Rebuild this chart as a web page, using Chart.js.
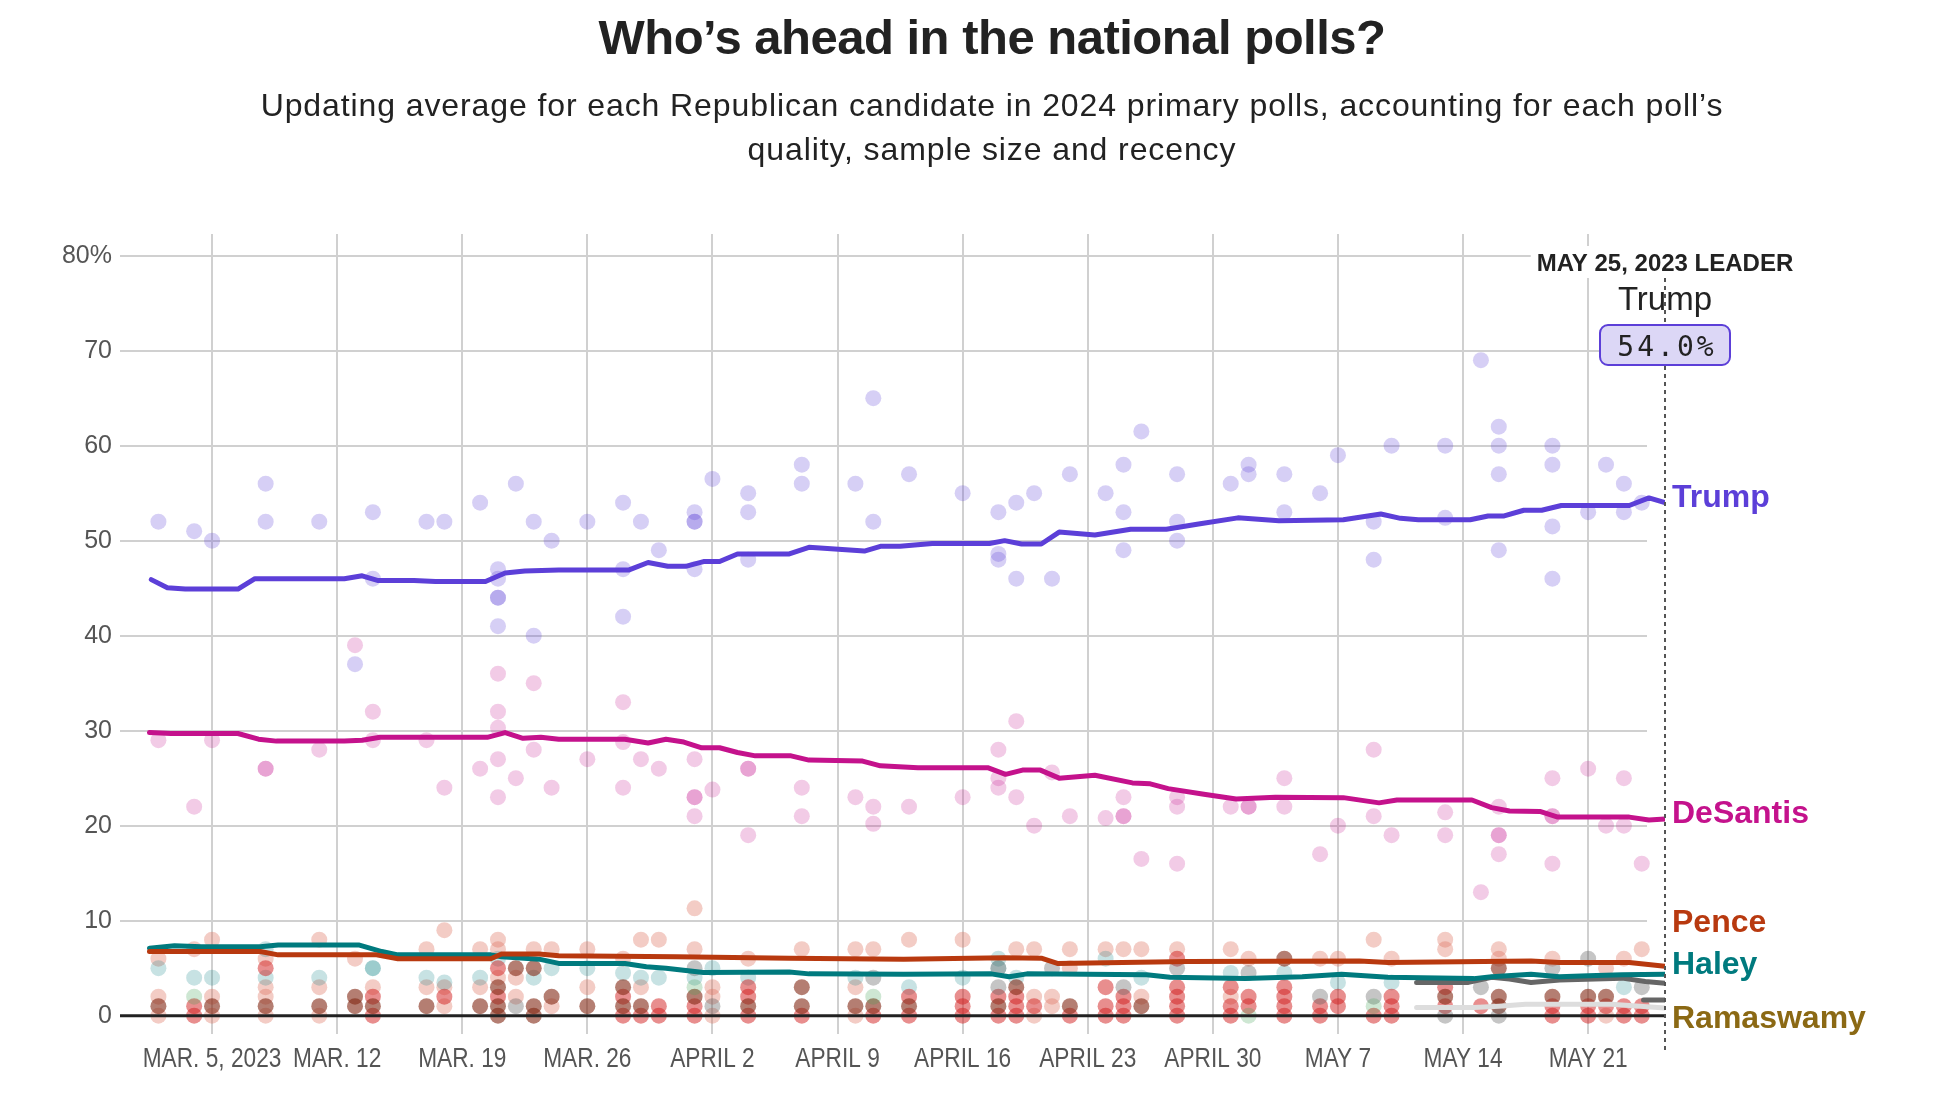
<!DOCTYPE html>
<html>
<head>
<meta charset="utf-8">
<script src="https://cdn.jsdelivr.net/npm/chart.js@4"></script>
<style>
    body { margin: 0; background: #fff; }
    #head {
        position: absolute; left: 0; top: 0; width: 1984px;
        text-align: center; color: #222; font-family: "Liberation Sans", Arial, sans-serif;
        z-index: 2;
    }
    #head h1 { margin: 0; position: absolute; top: 13px; width: 100%; font-size: 49px; line-height: 49px; font-weight: bold; letter-spacing: -0.5px; }
    #head p { margin: 0; position: absolute; top: 83px; width: 100%; font-size: 32px; line-height: 44px; letter-spacing: 0.9px; }
    #chart { position: absolute; left: 0; top: 0; }
</style>
</head>
<body>
<div id="head">
    <h1>Who’s ahead in the national polls?</h1>
    <p>Updating average for each Republican candidate in 2024 primary polls, accounting for each poll’s<br>quality, sample size and recency</p>
</div>
<canvas id="chart" width="1934" height="1110"></canvas>
<script>
// day 0 = March 5, 2023
const xTickDays = [0, 7, 14, 21, 28, 35, 42, 49, 56, 63, 70, 77];
const xTickLabels = ["MAR. 5, 2023", "MAR. 12", "MAR. 19", "MAR. 26", "APRIL 2", "APRIL 9",
    "APRIL 16", "APRIL 23", "APRIL 30", "MAY 7", "MAY 14", "MAY 21"];
const yTicks = [0, 10, 20, 30, 40, 50, 60, 70, 80];
const leaderDay = 81.3;
const leaderDate = "MAY 25, 2023 LEADER";

// polling averages
const trumpDays = [-3.4, -2.5, -1.5, 1.45, 2.4, 7.4, 8.4, 9.3, 11.3, 12.5, 15.3, 16.4, 17.5, 19.4, 23.3, 24.4, 25.5, 26.5, 27.5, 28.4, 29.4, 32.3, 33.4, 36.5, 37.4, 38.5, 40.3, 43.5, 44.35, 45.3, 46.4, 47.4, 49.4, 51.4, 53.4, 55.2, 57.4, 59.7, 63.3, 65.4, 66.5, 67.5, 70.4, 71.4, 72.3, 73.4, 74.4, 75.5, 79.3, 80.4, 81.3];
const trumpAvg = [45.9, 45.05, 44.9, 44.9, 46.0, 46.0, 46.3, 45.8, 45.8, 45.7, 45.7, 46.6, 46.8, 46.9, 46.9, 47.7, 47.3, 47.3, 47.8, 47.8, 48.6, 48.6, 49.3, 48.9, 49.4, 49.4, 49.7, 49.7, 50.0, 49.65, 49.65, 50.9, 50.6, 51.2, 51.2, 51.75, 52.4, 52.1, 52.2, 52.8, 52.35, 52.2, 52.2, 52.6, 52.6, 53.2, 53.2, 53.7, 53.7, 54.5, 54.0];

const desantisDays = [-3.5, -2.3, 1.45, 2.6, 3.6, 7.4, 8.4, 9.4, 15.4, 16.4, 17.4, 18.4, 19.4, 23.1, 24.4, 25.4, 26.4, 27.4, 28.4, 29.4, 30.4, 32.4, 33.4, 36.4, 37.4, 39.5, 43.4, 44.4, 45.35, 46.35, 47.4, 49.4, 51.5, 52.5, 53.5, 55.5, 57.3, 59.5, 63.3, 65.3, 66.3, 70.5, 71.6, 72.6, 74.3, 75.3, 79.3, 80.4, 81.3];
const desantisAvg = [29.8, 29.7, 29.7, 29.1, 28.9, 28.9, 29.0, 29.3, 29.3, 29.8, 29.2, 29.3, 29.1, 29.1, 28.7, 29.1, 28.8, 28.2, 28.2, 27.7, 27.35, 27.35, 26.9, 26.8, 26.3, 26.1, 26.1, 25.4, 25.85, 25.85, 25.0, 25.3, 24.5, 24.4, 23.9, 23.3, 22.8, 23.0, 22.95, 22.4, 22.7, 22.7, 21.9, 21.55, 21.5, 20.9, 20.9, 20.6, 20.7];

const penceDays = [-3.5, 2.7, 3.7, 9.2, 10.4, 15.6, 16.2, 18.3, 19.4, 26, 32.3, 38.7, 44.3, 46.4, 47.3, 54.6, 64.2, 65.8, 73.8, 75.4, 79.3, 81.3];
const penceAvg = [6.75, 6.75, 6.4, 6.4, 6.0, 6.0, 6.5, 6.5, 6.3, 6.2, 6.05, 5.95, 6.1, 6.05, 5.5, 5.7, 5.75, 5.6, 5.75, 5.6, 5.6, 5.2];

const haleyDays = [-3.5, -2.1, -0.6, 2.7, 3.7, 8.2, 9.5, 10.4, 15.6, 16.2, 18.3, 19.4, 23.1, 24.3, 25.4, 27.5, 32.3, 33.4, 38.7, 43.6, 44.6, 45.6, 52.3, 53.6, 57.8, 61, 63.2, 65.8, 70.6, 71.6, 73.8, 75.4, 77, 78.9, 81.3];
const haleyAvg = [7.1, 7.35, 7.25, 7.25, 7.45, 7.45, 6.75, 6.4, 6.4, 6.2, 5.95, 5.5, 5.5, 5.15, 5.0, 4.55, 4.6, 4.4, 4.35, 4.4, 4.1, 4.4, 4.3, 4.05, 3.9, 4.1, 4.35, 4.05, 3.9, 4.1, 4.35, 4.1, 4.2, 4.3, 4.35];

const otherDays = [67.4, 70.3, 71.6, 72.6, 73.8, 75.4, 78.9, 80.2, 81.3];
const otherAvg = [3.5, 3.5, 4.05, 3.85, 3.5, 3.75, 3.95, 3.6, 3.4];
const lightDays = [67.4, 70.6, 72, 73.5, 78.3, 81.3];
const lightAvg = [0.85, 0.85, 1.0, 1.2, 1.2, 0.8];
const newDays = [80.1, 81.3];
const newAvg = [1.65, 1.65];

// individual polls
const pollDays = [-3, -1, 0, 3, 3, 6, 8, 9, 9, 12, 13, 15, 16, 16, 16, 16, 16, 17, 18, 18, 19, 21, 23, 23, 23, 24, 25, 27, 27, 27, 27, 28, 30, 30, 30, 33, 33, 36, 37, 37, 39, 42, 44, 44, 44, 45, 45, 46, 47, 48, 50, 51, 51, 51, 52, 54, 54, 54, 57, 58, 58, 60, 60, 62, 63, 65, 65, 66, 69, 69, 71, 72, 72, 72, 72, 75, 75, 75, 75, 77, 78, 79, 79, 80];
const trumpPolls = [52, 51, 50, 56, 52, 52, 37, 53, 46, 52, 52, 54, 47, 46, 44, 44, 41, 56, 52, 40, 50, 52, 54, 47, 42, 52, 49, 53, 52, 52, 47, 56.5, 55, 53, 48, 58, 56, 56, 65, 52, 57, 55, 53, 48.6, 48, 54, 46, 55, 46, 57, 55, 58, 53, 49, 61.5, 57, 52, 50, 56, 58, 57, 57, 53, 55, 59, 52, 48, 60, 60, 52.4, 69, 62, 60, 57, 49, 60, 58, 51.5, 46, 53, 58, 56, 53, 54];
const desantisPolls = [29, 22, 29, 26, 26, 28, 39, 32, 29, 29, 24, 26, 36, 32, 30.3, 27, 23, 25, 35, 28, 24, 27, 33, 28.8, 24, 27, 26, 27, 23, 23, 21, 23.8, 26, 26, 19, 24, 21, 23, 22, 20.2, 22, 23, 28, 25, 24, 31, 23, 20, 25.6, 21, 20.8, 23, 21, 21, 16.5, 23, 22, 16, 22, 22, 22, 25, 22, 17, 20, 28, 21, 19, 21.4, 19, 13, 22, 19, 19, 17, 25, 21, 21, 16, 26, 20, 25, 20, 16];

const salmonDays = [-3, -3, -3, -1, 0, 0, 0, 3, 3, 3, 3, 6, 6, 6, 8, 9, 12, 12, 13, 13, 13, 15, 15, 16, 16, 16, 17, 17, 18, 19, 19, 21, 21, 23, 24, 24, 25, 27, 27, 28, 28, 28, 30, 33, 36, 36, 36, 37, 39, 42, 45, 46, 46, 46, 47, 47, 48, 48, 50, 51, 52, 52, 54, 57, 57, 58, 62, 63, 65, 66, 69, 69, 72, 72, 75, 78, 78, 79, 80];
const salmonVals = [6, 2, 0, 7, 8, 2, 0, 6, 3, 2, 0, 8, 3, 0, 6, 3, 7, 3, 9, 3, 1, 7, 3, 8, 7, 4, 4, 2, 7, 7, 1, 7, 3, 6, 8, 3, 8, 11.3, 7, 3, 2, 0, 6, 7, 7, 3, 0, 7, 8, 8, 7, 7, 2, 0, 2, 1, 7, 5, 7, 7, 7, 2, 7, 7, 2, 6, 6, 6, 8, 6, 8, 7, 7, 6, 6, 5, 0, 6, 7];
const tealDays = [-3, -1, 0, 3, 3, 6, 9, 9, 12, 13, 15, 16, 18, 19, 21, 23, 24, 25, 27, 28, 30, 36, 39, 42, 44, 44, 45, 50, 52, 57, 60, 63, 66, 79];
const tealVals = [5, 4, 4, 7, 4, 4, 5, 5, 4, 3.5, 4, 6, 4, 5, 5, 4.5, 4, 4, 4, 5, 4, 4, 3, 4, 6, 5, 4, 6, 4, 4.5, 4.5, 3.5, 3.5, 3];
const redDays = [-1, -1, 3, 9, 9, 13, 16, 16, 23, 23, 24, 25, 25, 27, 27, 30, 30, 30, 33, 37, 39, 39, 42, 42, 42, 44, 44, 45, 45, 45, 46, 48, 50, 50, 50, 51, 51, 51, 54, 54, 54, 54, 54, 57, 57, 57, 58, 58, 60, 60, 60, 60, 62, 62, 63, 63, 65, 66, 66, 66, 69, 69, 71, 75, 75, 77, 77, 78, 79, 79, 80, 80];
const redVals = [1, 0, 5, 2, 0, 2, 5, 2, 2, 0, 0, 1, 0, 1, 0, 3, 2, 0, 0, 0, 2, 0, 2, 1, 0, 2, 0, 2, 1, 0, 1, 0, 3, 1, 0, 2, 1, 0, 6, 3, 2, 1, 0, 3, 1, 0, 2, 1, 3, 2, 1, 0, 1, 0, 2, 1, 0, 2, 1, 0, 3, 1, 1, 1, 0, 1, 0, 1, 1, 0, 1, 0];
const brownDays = [-3, 0, 3, 6, 8, 8, 9, 12, 15, 16, 16, 16, 17, 18, 18, 18, 19, 21, 23, 23, 24, 27, 30, 33, 33, 36, 37, 39, 44, 45, 48, 52, 60, 69, 72, 72, 72, 75, 77, 78];
const brownVals = [1, 1, 1, 1, 2, 1, 1, 1, 1, 3, 1, 0, 5, 5, 1, 0, 2, 1, 3, 1, 1, 2, 1, 3, 1, 1, 1, 1, 1, 3, 1, 1, 6, 2, 5, 2, 1, 2, 2, 2];
const grayDays = [17, 27, 28, 37, 44, 44, 47, 51, 54, 58, 62, 65, 69, 71, 72, 75, 77, 80];
const grayVals = [1, 5, 1, 4, 5, 3, 5, 3, 5, 4.5, 2, 2, 0, 3, 0, 5, 6, 3];
const greenDays = [-1, 27, 37, 58, 65];
const greenVals = [2, 3, 2, 0, 1];

const endLabels = ["Trump", "DeSantis", "Pence", "Haley", "Ramaswamy"];
const endColors = ["#5c3fd8", "#c4128c", "#b8390f", "#007a7e", "#8b6914"];
const endLabelAt = [54.5, 21.2, 9.7, 5.3, -0.35];

function pts(days, vals) {
    return days.map((d, i) => ({ x: d, y: vals[i] }));
}

function lineSet(days, vals, color, order) {
    return {
        data: pts(days, vals),
        showLine: true,
        borderColor: color,
        borderWidth: 5,
        pointRadius: 0,
        borderJoinStyle: "round",
        borderCapStyle: "round",
        order: order
    };
}

function dotSet(days, vals, color, order) {
    return {
        data: pts(days, vals),
        showLine: false,
        backgroundColor: color,
        borderWidth: 0,
        pointRadius: 8,
        order: order
    };
}

const overlay = {
    id: "overlay",
    beforeDatasetsDraw(chart) {
        // horizontal rules stop a little short of the date line
        const { ctx, chartArea, scales: { y } } = chart;
        ctx.save();
        ctx.strokeStyle = "#d0d0d0";
        ctx.lineWidth = 2;
        yTicks.filter(v => v !== 0).forEach(v => {
            const py = Math.round(y.getPixelForValue(v));
            ctx.beginPath();
            ctx.moveTo(chartArea.left, py);
            ctx.lineTo(chartArea.right - 18, py);
            ctx.stroke();
        });
        ctx.restore();
    },
    afterDatasetsDraw(chart) {
        const { ctx, chartArea, scales: { x, y } } = chart;
        ctx.save();

        // baseline sits over the dots
        const y0 = y.getPixelForValue(0);
        ctx.strokeStyle = "#222";
        ctx.lineWidth = 3;
        ctx.beginPath();
        ctx.moveTo(chartArea.left, y0);
        ctx.lineTo(chartArea.right, y0);
        ctx.stroke();

        const xd = x.getPixelForValue(leaderDay);
        ctx.setLineDash([4, 4]);
        ctx.strokeStyle = "#555";
        ctx.lineWidth = 2;
        ctx.beginPath();
        ctx.moveTo(xd, chartArea.top + 44);
        ctx.lineTo(xd, chartArea.bottom + 16);
        ctx.stroke();
        ctx.setLineDash([]);

        // x labels, narrowed like the original condensed face
        ctx.fillStyle = "#555";
        ctx.font = "28px 'Liberation Sans', Arial, sans-serif";
        ctx.textAlign = "center";
        ctx.textBaseline = "middle";
        xTickDays.forEach((d, i) => {
            ctx.save();
            ctx.translate(x.getPixelForValue(d), chartArea.bottom + 25);
            ctx.scale(0.81, 1);
            ctx.fillText(xTickLabels[i], 0, 0);
            ctx.restore();
        });

        // candidate names at the right
        ctx.font = "bold 32px 'Liberation Sans', Arial, sans-serif";
        ctx.textAlign = "left";
        endLabels.forEach((name, i) => {
            ctx.fillStyle = endColors[i];
            ctx.fillText(name, chartArea.right + 7, y.getPixelForValue(endLabelAt[i]));
        });

        // leader box
        ctx.textAlign = "center";
        ctx.textBaseline = "alphabetic";
        ctx.font = "bold 24px 'Liberation Sans', Arial, sans-serif";
        const w = ctx.measureText(leaderDate).width;
        ctx.fillStyle = "#fff";
        ctx.fillRect(xd - w / 2 - 6, chartArea.top + 12, w + 12, 32);
        ctx.fillStyle = "#222";
        ctx.fillText(leaderDate, xd, chartArea.top + 37);

        ctx.font = "33px 'Liberation Sans', Arial, sans-serif";
        ctx.fillText(endLabels[0], xd, chartArea.top + 76);

        ctx.beginPath();
        ctx.roundRect(xd - 65, chartArea.top + 91, 130, 40, 8);
        ctx.fillStyle = "#dcd7f6";
        ctx.fill();
        ctx.strokeStyle = "#5c3fd8";
        ctx.lineWidth = 2;
        ctx.stroke();

        ctx.fillStyle = "#222";
        ctx.font = "28px 'DejaVu Sans Mono', monospace";
        ctx.letterSpacing = "3px";
        ctx.fillText(trumpAvg[trumpAvg.length - 1].toFixed(1) + "%", xd + 2, chartArea.top + 122);
        ctx.restore();
    }
};

new Chart(document.getElementById("chart"), {
    type: "scatter",
    data: {
        datasets: [
            lineSet(trumpDays, trumpAvg, "#5c3fd8", 0),
            lineSet(desantisDays, desantisAvg, "#c4128c", 1),
            lineSet(penceDays, penceAvg, "#b8390f", 2),
            lineSet(haleyDays, haleyAvg, "#007a7e", 3),
            lineSet(otherDays, otherAvg, "#666666", 4),
            lineSet(lightDays, lightAvg, "#dddddd", 5),
            lineSet(newDays, newAvg, "#666666", 4),
            dotSet(pollDays, trumpPolls, "rgba(92, 63, 216, 0.25)", 10),
            dotSet(pollDays, desantisPolls, "rgba(196, 18, 140, 0.22)", 10),
            dotSet(greenDays, greenVals, "rgba(60, 160, 80, 0.25)", 11),
            dotSet(grayDays, grayVals, "rgba(90, 90, 90, 0.35)", 12),
            dotSet(brownDays, brownVals, "rgba(130, 40, 20, 0.6)", 13),
            dotSet(redDays, redVals, "rgba(210, 30, 30, 0.5)", 14),
            dotSet(tealDays, tealVals, "rgba(0, 122, 126, 0.22)", 15),
            dotSet(salmonDays, salmonVals, "rgba(220, 110, 90, 0.35)", 16)
        ]
    },
    options: {
        responsive: false,
        animation: false,
        devicePixelRatio: 1,
        layout: { padding: { top: 234, right: 269, left: 0, bottom: 0 } },
        plugins: { legend: { display: false }, tooltip: { enabled: false } },
        scales: {
            x: {
                type: "linear",
                min: -5.15,
                max: 81.3,
                afterBuildTicks: s => { s.ticks = xTickDays.map(v => ({ value: v })); },
                afterFit: s => { s.height = 76; },
                border: { display: false },
                grid: { color: "#d0d0d0", lineWidth: 2, drawTicks: false },
                ticks: { display: false }
            },
            y: {
                min: -1.93,
                max: 82.28,
                afterBuildTicks: s => { s.ticks = yTicks.map(v => ({ value: v })); },
                afterFit: s => { s.width = 120; },
                border: { display: false },
                grid: { display: false, drawTicks: false },
                ticks: {
                    padding: 8,
                    color: "#555",
                    font: { family: "'Liberation Sans', Arial, sans-serif", size: 25 },
                    callback: v => v === 80 ? v + "%" : v
                }
            }
        }
    },
    plugins: [overlay]
});
</script>
</body>
</html>
